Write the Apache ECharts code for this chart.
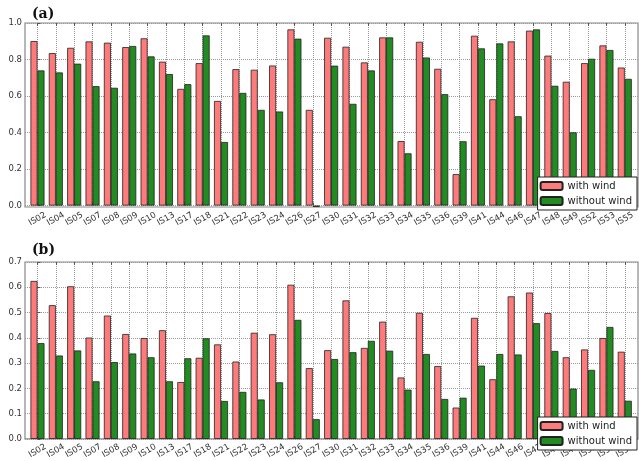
<!DOCTYPE html>
<html>
<head>
<meta charset="utf-8">
<script src="https://cdn.jsdelivr.net/npm/echarts@6/dist/echarts.min.js"></script>
<style>
html, body { margin: 0; padding: 0; background: #fff; }
#chart { width: 639px; height: 461px; }
</style>
</head>
<body>
<div id="chart"></div>
<script>
// stations on the x axis
var stations = ["IS02", "IS04", "IS05", "IS07", "IS08", "IS09", "IS10", "IS13", "IS17", "IS18", "IS21",
  "IS22", "IS23", "IS24", "IS26", "IS27", "IS30", "IS31", "IS32", "IS33", "IS34", "IS35", "IS36",
  "IS39", "IS41", "IS44", "IS46", "IS47", "IS48", "IS49", "IS52", "IS53", "IS55"];

// panel (a)
var windA = [0.901, 0.835, 0.864, 0.899, 0.892, 0.868, 0.916, 0.788, 0.639, 0.780, 0.573,
  0.747, 0.744, 0.767, 0.965, 0.524, 0.919, 0.870, 0.784, 0.921, 0.353, 0.897, 0.749,
  0.172, 0.930, 0.582, 0.899, 0.958, 0.821, 0.678, 0.780, 0.877, 0.756];
var noWindA = [0.740, 0.729, 0.777, 0.654, 0.645, 0.874, 0.817, 0.720, 0.665, 0.932, 0.348,
  0.617, 0.524, 0.515, 0.914, -0.008, 0.766, 0.557, 0.740, 0.921, 0.286, 0.811, 0.610,
  0.352, 0.861, 0.888, 0.489, 0.965, 0.656, 0.401, 0.804, 0.852, 0.694];

// panel (b)
var windB = [0.625, 0.529, 0.604, 0.401, 0.488, 0.415, 0.399, 0.430, 0.225, 0.321, 0.374,
  0.306, 0.420, 0.414, 0.610, 0.280, 0.351, 0.548, 0.360, 0.464, 0.243, 0.499, 0.288,
  0.124, 0.479, 0.236, 0.564, 0.579, 0.498, 0.323, 0.354, 0.399, 0.345];
var noWindB = [0.379, 0.330, 0.350, 0.228, 0.304, 0.338, 0.323, 0.228, 0.319, 0.398, 0.150,
  0.186, 0.156, 0.224, 0.471, 0.078, 0.316, 0.343, 0.388, 0.349, 0.195, 0.336, 0.158,
  0.163, 0.290, 0.336, 0.334, 0.458, 0.348, 0.199, 0.273, 0.443, 0.151];

var ticksA = [0, 0.2, 0.4, 0.6, 0.8, 1.0];
var ticksB = [0, 0.1, 0.2, 0.3, 0.4, 0.5, 0.6, 0.7];

var stationIdx = stations.map(function (s, i) { return i; });
var gridLine = { show: true, lineStyle: { color: "#9a9a9a", type: "dotted", width: 1 } };

function makeX(gridIndex, pos, labels) {
  return {
    type: "value",
    gridIndex: gridIndex,
    position: pos,
    min: -0.68,
    max: 32.72,
    axisLine: { show: false },
    axisTick: { show: true, inside: true, length: 3, customValues: stationIdx, lineStyle: { color: "#555" } },
    splitLine: labels ? gridLine : { show: false },
    axisLabel: labels ? {
      show: true,
      customValues: stationIdx,
      formatter: function (v) { return stations[Math.round(v)]; },
      rotate: 30,
      align: "center",
      verticalAlign: "middle",
      margin: 12,
      fontSize: 8.5,
      color: "#333",
      fontFamily: "DejaVu Sans"
    } : { show: false }
  };
}

function makeY(gridIndex, min, max, ticks) {
  return {
    type: "value",
    gridIndex: gridIndex,
    min: min,
    max: max,
    axisLine: { show: false },
    axisTick: { show: true, inside: true, length: 3, customValues: ticks, lineStyle: { color: "#555" } },
    splitLine: gridLine,
    axisLabel: {
      customValues: ticks,
      formatter: function (v) { return v.toFixed(1); },
      margin: 3,
      fontSize: 8.5,
      color: "#333",
      fontFamily: "DejaVu Sans"
    }
  };
}

function makeBars(name, vals, color, xi, yi) {
  return {
    name: name,
    type: "bar",
    xAxisIndex: xi,
    yAxisIndex: yi,
    barWidth: 7,
    barGap: "0%",
    itemStyle: { color: color, borderColor: "#222", borderWidth: 0.8 },
    data: vals.map(function (v, i) { return [i, v]; })
  };
}

function makeLegend(top) {
  return {
    right: 2,
    top: top,
    orient: "vertical",
    itemWidth: 22,
    itemHeight: 8,
    itemGap: 5,
    padding: [4, 5, 4, 2],
    borderColor: "#222",
    borderWidth: 1,
    borderRadius: 0,
    backgroundColor: "#fff",
    textStyle: { fontSize: 10, color: "#222", fontFamily: "DejaVu Sans" },
    data: ["with wind", "without wind"]
  };
}

var chart = echarts.init(document.getElementById("chart"));
chart.setOption({
  animation: false,
  title: [
    { text: "(a)", left: 27, top: 2, textStyle: { fontFamily: "DejaVu Serif", fontWeight: "bold", fontSize: 14, color: "#111" } },
    { text: "(b)", left: 27, top: 238, textStyle: { fontFamily: "DejaVu Serif", fontWeight: "bold", fontSize: 14, color: "#111" } }
  ],
  legend: [makeLegend(177), makeLegend(417)],
  grid: [
    { left: 25, right: 1, top: 23, height: 184, show: true, borderColor: "#888", borderWidth: 1.2 },
    { left: 25, right: 1, top: 262, height: 188, show: true, borderColor: "#888", borderWidth: 1.2 }
  ],
  xAxis: [
    makeX(0, "bottom", true), makeX(0, "top", false),
    makeX(1, "bottom", true), makeX(1, "top", false)
  ],
  yAxis: [
    makeY(0, -0.008, 1.0, ticksA),
    makeY(1, 0, 0.7, ticksB)
  ],
  series: [
    makeBars("with wind", windA, "#ff7b7b", 0, 0),
    makeBars("without wind", noWindA, "#228b22", 0, 0),
    makeBars("with wind", windB, "#ff7b7b", 2, 1),
    makeBars("without wind", noWindB, "#228b22", 2, 1)
  ]
});
</script>
</body>
</html>
